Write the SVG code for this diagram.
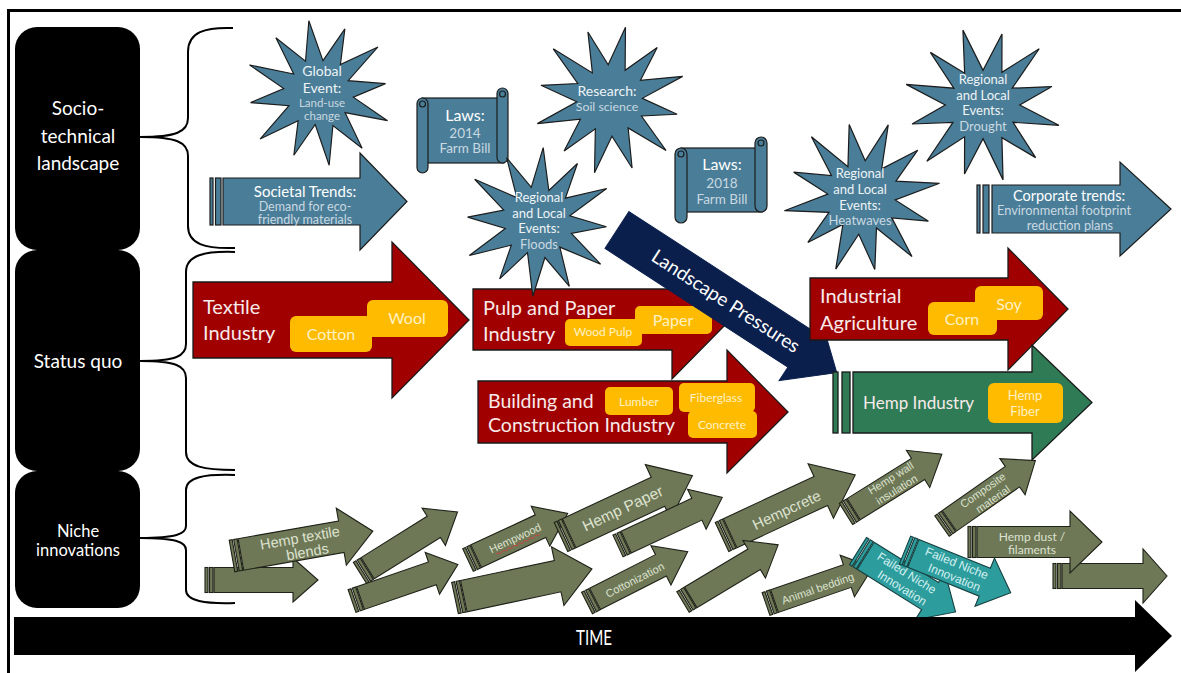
<svg xmlns="http://www.w3.org/2000/svg" xmlns:xlink="http://www.w3.org/1999/xlink" width="1181" height="673" viewBox="0 0 1181 673">
<style>
text{font-family:Lato,"Open Sans","Liberation Sans",sans-serif}
.lbl{fill:#fff;text-anchor:middle}
.blue{fill:#4a7e98;stroke:#1c1c1c;stroke-width:1.2}
.red{fill:#a10000;stroke:#1a1a1a;stroke-width:1.3}
.grn{fill:#2f7b56;stroke:#1a1a1a;stroke-width:1.3}
.yel{fill:#ffbb00}
.yt{fill:#fff1c4;text-anchor:middle}
.rt{fill:#f7eaea}
.na{fill:#6e7857;stroke:#1e2218;stroke-width:1.1}
.ta{fill:#2d9c9c;stroke:#163f3f;stroke-width:1.1}
.nt{fill:#dde2cf;text-anchor:middle;font-family:"Liberation Sans",Arial,sans-serif}
.tt{fill:#d4f1f1;text-anchor:middle;font-family:"Liberation Sans",Arial,sans-serif}
.st{fill:#eef3f6;text-anchor:middle}
.sl{fill:#c9d8e1;text-anchor:middle}
.brace{fill:none;stroke:#000;stroke-width:2}
</style>
<defs>
<polygon id="star" class="blue" points="0,-76 8.8,-32.8 36,-62.4 26.2,-26.2 67.5,-39 31.9,-8.5 70,0 34.8,9.3 66.7,38.5 24,24 36.5,63.2 9.6,35.7 0,76 -8.5,31.9 -35,60.6 -25.5,25.5 -67.5,39 -32.8,8.8 -72,0 -35.7,-9.6 -67.5,-39 -23.3,-23.3 -36.5,-63.2 -9.3,-34.8"/>
</defs>
<rect x="8.5" y="10.5" width="1200" height="700" fill="none" stroke="#000" stroke-width="3"/>

<g id="levels">
<g id="level-landscape"><rect x="15" y="27" width="125" height="223" rx="22" fill="#000"/>
<text class="lbl" font-size="19" x="78" y="115">Socio-</text><text class="lbl" font-size="19" x="78" y="143">technical</text><text class="lbl" font-size="19" x="78" y="170">landscape</text></g>
<g id="level-statusquo"><rect x="15" y="250" width="125" height="221" rx="22" fill="#000"/>
<text class="lbl" font-size="19" x="78" y="368">Status quo</text></g>
<g id="level-niche"><rect x="15" y="471" width="125" height="137" rx="22" fill="#000"/>
<text class="lbl" font-size="16.5" x="78" y="537">Niche</text><text class="lbl" font-size="16.5" x="78" y="556">innovations</text></g>
</g>

<g id="connectors">
<path class="brace" d="M233,28 C205,27 188,32 188,52 L188,118 C188,132 176,137 140,137 C176,137 188,142 188,156 L188,226 C188,244 205,249 235,248"/>
<path class="brace" d="M235,252 C205,251 186,255 186,272 L186,344 C186,356 176,361 140,361 C176,361 186,366 186,378 L186,452 C186,467 205,470 235,470"/>
<path class="brace" d="M235,475 C205,474 186,477 186,490 L186,526 C186,534 176,538 140,538 C176,538 186,542 186,550 L186,590 C186,601 205,604 235,603"/>
</g>

<g id="societal-trends">
<rect class="blue" x="210" y="178" width="3" height="47"/><rect class="blue" x="215.5" y="178" width="5.5" height="47"/>
<path class="blue" d="M223,178 H360 V153 L407,201.5 L360,250 V225 H223 Z"/>
<text class="lbl" font-size="15" x="305" y="197">Societal Trends:</text>
<text class="sl" font-size="12.5" x="305" y="211">Demand for eco-</text>
<text class="sl" font-size="12.5" x="305" y="224">friendly materials</text>
</g>
<g id="corporate-trends">
<rect class="blue" x="977" y="185" width="3" height="48"/><rect class="blue" x="983" y="185" width="6" height="48"/>
<path class="blue" d="M992,185 H1120 V162 L1171,209 L1120,256 V233 H992 Z"/>
<text class="lbl" font-size="14.5" x="1069" y="201">Corporate trends:</text>
<text class="sl" font-size="12.8" x="1064" y="215">Environmental footprint</text>
<text class="sl" font-size="12.8" x="1070" y="230">reduction plans</text>
</g>
<g id="laws-2014">
<rect class="blue" x="422" y="98" width="82" height="65"/>
<rect class="blue" x="417" y="98" width="11" height="75" rx="5.5"/>
<rect class="blue" x="497" y="88" width="11" height="75" rx="5.5"/>
<circle class="blue" cx="422.5" cy="104" r="3"/><circle class="blue" cx="502.5" cy="94" r="3"/>
<text class="lbl" font-size="16" x="465" y="121">Laws:</text>
<text class="sl" font-size="13.5" x="465" y="138">2014</text>
<text class="sl" font-size="13.5" x="465" y="153">Farm Bill</text>
</g>
<g id="laws-2018">
<rect class="blue" x="681" y="148" width="81" height="64"/>
<rect class="blue" x="675" y="148" width="12" height="75" rx="6"/>
<rect class="blue" x="755" y="137" width="12" height="75" rx="6"/>
<circle class="blue" cx="681" cy="154" r="3"/><circle class="blue" cx="761" cy="143" r="3"/>
<text class="lbl" font-size="16" x="722" y="170">Laws:</text>
<text class="sl" font-size="13.5" x="722" y="188">2018</text>
<text class="sl" font-size="13.5" x="722" y="204">Farm Bill</text>
</g>
<g id="global-event">
<use xlink:href="#star" href="#star" transform="translate(319,93) rotate(-8) scale(0.96)"/>
<text class="st" font-size="14" x="322" y="76">Global</text>
<text class="st" font-size="14" x="322" y="93">Event:</text>
<text class="sl" font-size="11.5" x="322" y="107">Land-use</text>
<text class="sl" font-size="11.5" x="322" y="120">change</text>
</g>
<g id="research">
<use xlink:href="#star" href="#star" transform="translate(610,100) rotate(12) scale(0.98)"/>
<text class="st" font-size="14" x="607" y="96">Research:</text>
<text class="sl" font-size="12.3" x="607" y="111">Soil science</text>
</g>
<g id="drought">
<use xlink:href="#star" href="#star" transform="translate(983,105) rotate(-15) scale(1.02)"/>
<text class="st" font-size="13" x="983" y="84">Regional</text>
<text class="st" font-size="13" x="983" y="100">and Local</text>
<text class="st" font-size="13" x="983" y="115">Events:</text>
<text class="sl" font-size="13" x="983" y="131">Drought</text>
</g>
<g id="heatwaves">
<use xlink:href="#star" href="#star" transform="translate(862,197) rotate(20) scale(1.01)"/>
<text class="st" font-size="13" x="860" y="178">Regional</text>
<text class="st" font-size="13" x="860" y="194">and Local</text>
<text class="st" font-size="13" x="860" y="210">Events:</text>
<text class="sl" font-size="13" x="860" y="225">Heatwaves</text>
</g>

<g id="textile-industry">
<path class="red" d="M193,282 H392 V242 L469,320 L392,398 V358 H193 Z"/>
<rect class="yel" x="367" y="300" width="81" height="37" rx="6"/>
<rect class="yel" x="290" y="316" width="82" height="36" rx="6"/>
<text class="rt" font-size="20" x="203" y="314">Textile</text><text class="rt" font-size="20" x="203" y="340">Industry</text>
<text class="yt" font-size="16" x="331" y="340">Cotton</text>
<text class="yt" font-size="16" x="407" y="324">Wool</text>
</g>
<g id="building-industry">
<path class="red" d="M478,381 H727 V350 L788,412 L727,473 V443 H478 Z"/>
<rect class="yel" x="605" y="387" width="68" height="28" rx="5"/>
<rect class="yel" x="679" y="383" width="76" height="29" rx="5"/>
<rect class="yel" x="688" y="411" width="69" height="27" rx="5"/>
<text class="rt" font-size="19.5" x="488" y="408">Building and</text>
<text class="rt" font-size="19.5" x="488" y="432">Construction Industry</text>
<text class="yt" font-size="12" x="639" y="406">Lumber</text>
<text class="yt" font-size="12" x="716" y="402">Fiberglass</text>
<text class="yt" font-size="12" x="722" y="429">Concrete</text>
</g>
<g id="pulp-paper-industry">
<path class="red" d="M473,289 H672 V261 L730,320 L672,379 V350 H473 Z"/>
<rect class="yel" x="635" y="306" width="77" height="28" rx="5"/>
<rect class="yel" x="565" y="319" width="77" height="27" rx="5"/>
<text class="rt" font-size="20" x="483" y="315">Pulp and Paper</text><text class="rt" font-size="20" x="483" y="341">Industry</text>
<text class="yt" font-size="12" x="603" y="336">Wood Pulp</text>
<text class="yt" font-size="16" x="673" y="326">Paper</text>
</g>
<g id="landscape-pressures" transform="translate(617,230) rotate(33)">
<path fill="#0b1f4d" stroke="#0b1f4d" stroke-width="1" d="M0,-22 H218 V-38 L262,0 L218,38 V22 H0 Z"/>
<text class="lbl" font-size="19" x="130" y="7">Landscape Pressures</text>
</g>
<g id="floods">
<use xlink:href="#star" href="#star" transform="translate(538,222) rotate(4) scale(0.98)"/>
<text class="st" font-size="13" x="539" y="202">Regional</text>
<text class="st" font-size="13" x="539" y="218">and Local</text>
<text class="st" font-size="13" x="539" y="233">Events:</text>
<text class="sl" font-size="13" x="539" y="249">Floods</text>
</g>
<g id="industrial-agriculture">
<path class="red" d="M810,278 H1008 V248 L1068,309 L1008,370 V340 H810 Z"/>
<rect class="yel" x="975" y="286" width="68" height="34" rx="6"/>
<rect class="yel" x="928" y="302" width="69" height="33" rx="6"/>
<text class="rt" font-size="20" x="820" y="303">Industrial</text><text class="rt" font-size="20" x="820" y="330">Agriculture</text>
<text class="yt" font-size="16" x="962" y="325">Corn</text>
<text class="yt" font-size="16" x="1009" y="310">Soy</text>
</g>
<g id="hemp-industry">
<rect class="grn" x="833" y="372" width="5" height="61"/><rect class="grn" x="842" y="372" width="8" height="61"/>
<path class="grn" d="M853,372 H1032 V345 L1092,402.5 L1032,460 V433 H853 Z"/>
<rect class="yel" x="988" y="383" width="75" height="40" rx="6"/>
<text class="rt" font-size="17" x="863" y="409">Hemp Industry</text>
<text class="yt" font-size="13" x="1025" y="400">Hemp</text>
<text class="yt" font-size="13" x="1025" y="416">Fiber</text>
</g>

<g id="niche-arrows">
<g id="niche-1" transform="translate(205,580)"><rect class="na" x="0" y="-12.5" width="3" height="25"/><rect class="na" x="4.5" y="-12.5" width="3.5" height="25"/><path class="na" d="M9,-12.5 H88 V-22 L113,0 L88,22 V12.5 H9 Z"/></g>
<g id="hemp-textile-blends" transform="translate(232,556) rotate(-10)"><rect class="na" x="0" y="-16" width="3" height="32"/><rect class="na" x="4.5" y="-16" width="3.5" height="32"/><path class="na" d="M9,-16 H111 V-29 L143,0 L111,29 V16 H9 Z"/>
<text class="nt" font-size="14.5" x="70" y="-1">Hemp textile</text><text class="nt" font-size="14.5" x="75" y="14">blends</text></g>
<g id="niche-3" transform="translate(360,573) rotate(-32)"><rect class="na" x="0" y="-12.5" width="3" height="25"/><rect class="na" x="4.5" y="-12.5" width="3.5" height="25"/><path class="na" d="M9,-12.5 H87 V-22 L115,0 L87,22 V12.5 H9 Z"/></g>
<g id="niche-4" transform="translate(352,601) rotate(-19)"><rect class="na" x="0" y="-12" width="3" height="24"/><rect class="na" x="4.5" y="-12" width="3.5" height="24"/><path class="na" d="M9,-12 H85 V-22 L112,0 L85,22 V12 H9 Z"/></g>
<g id="hempwood" transform="translate(468,560) rotate(-25)"><rect class="na" x="0" y="-12.5" width="3" height="25"/><rect class="na" x="4.5" y="-12.5" width="3.5" height="25"/><path class="na" d="M9,-12.5 H80 V-22 L110,0 L80,22 V12.5 H9 Z"/>
<text class="nt" font-size="11" x="52" y="4">Hempwood</text>
<path fill="none" stroke="#d04040" stroke-width="0.8" d="M28,7 q1.5,-1.8 3,0 t3,0 t3,0 t3,0 t3,0 t3,0 t3,0 t3,0 t3,0 t3,0 t3,0 t3,0 t3,0 t3,0 t3,0 t3,0"/></g>
<g id="niche-6" transform="translate(455,598) rotate(-12)"><rect class="na" x="0" y="-16" width="3" height="32"/><rect class="na" x="4.5" y="-16" width="3.5" height="32"/><path class="na" d="M9,-16 H105 V-30 L140,0 L105,30 V16 H9 Z"/></g>
<g id="hemp-paper" transform="translate(561,537) rotate(-25)"><rect class="na" x="0" y="-16" width="3" height="32"/><rect class="na" x="4.5" y="-16" width="3.5" height="32"/><path class="na" d="M9,-16 H107 V-30 L145,0 L107,30 V16 H9 Z"/>
<text class="nt" font-size="15.5" x="68" y="5.5">Hemp Paper</text></g>
<g id="niche-8" transform="translate(618,546) rotate(-25)"><rect class="na" x="0" y="-12" width="3" height="24"/><rect class="na" x="4.5" y="-12" width="3.5" height="24"/><path class="na" d="M9,-12 H87 V-22 L115,0 L87,22 V12 H9 Z"/></g>
<g id="cottonization" transform="translate(587,603) rotate(-27)"><rect class="na" x="0" y="-12" width="3" height="24"/><rect class="na" x="4.5" y="-12" width="3.5" height="24"/><path class="na" d="M9,-12 H83 V-22 L113,0 L83,22 V12 H9 Z"/>
<text class="nt" font-size="11" x="53" y="5">Cottonization</text></g>
<g id="hempcrete" transform="translate(722,537) rotate(-25)"><rect class="na" x="0" y="-16" width="3" height="32"/><rect class="na" x="4.5" y="-16" width="3.5" height="32"/><path class="na" d="M9,-16 H109 V-30 L147,0 L109,30 V16 H9 Z"/>
<text class="nt" font-size="15" x="70" y="8">Hempcrete</text></g>
<g id="niche-11" transform="translate(683,602) rotate(-31)"><rect class="na" x="0" y="-12" width="3" height="24"/><rect class="na" x="4.5" y="-12" width="3.5" height="24"/><path class="na" d="M9,-12 H83 V-22 L111,0 L83,22 V12 H9 Z"/></g>
<g id="hemp-wall-insulation" transform="translate(846,514) rotate(-32)"><rect class="na" x="0" y="-12.5" width="3" height="25"/><rect class="na" x="4.5" y="-12.5" width="3.5" height="25"/><path class="na" d="M9,-12.5 H85 V-22 L113,0 L85,22 V12.5 H9 Z"/>
<text class="nt" font-size="11" x="57" y="-3">Hemp wall</text><text class="nt" font-size="11" x="56" y="10">insulation</text></g>
<g id="animal-bedding" transform="translate(766,604) rotate(-19)"><rect class="na" x="0" y="-12" width="3" height="24"/><rect class="na" x="4.5" y="-12" width="3.5" height="24"/><path class="na" d="M9,-12 H86 V-22 L113,0 L86,22 V12 H9 Z"/>
<text class="nt" font-size="11" x="54" y="6">Animal bedding</text></g>
<g id="failed-niche-1" transform="translate(858,551) rotate(32)"><rect class="ta" x="0" y="-16" width="3" height="32"/><rect class="ta" x="4.5" y="-16" width="3.5" height="32"/><path class="ta" d="M9,-16 H85 V-28 L115,0 L85,28 V16 H9 Z"/>
<text class="tt" font-size="12" x="53" y="-3">Failed Niche</text><text class="tt" font-size="12" x="57" y="12">Innovation</text></g>
<g id="failed-niche-2" transform="translate(905,550) rotate(22)"><rect class="ta" x="0" y="-15" width="3" height="30"/><rect class="ta" x="4.5" y="-15" width="3.5" height="30"/><path class="ta" d="M9,-15 H86 V-26 L114,0 L86,26 V15 H9 Z"/>
<text class="tt" font-size="12" x="53" y="-3">Failed Niche</text><text class="tt" font-size="12" x="56" y="11">Innovation</text></g>
<g id="composite-material" transform="translate(942,526) rotate(-35)"><rect class="na" x="0" y="-12.5" width="3" height="25"/><rect class="na" x="4.5" y="-12.5" width="3.5" height="25"/><path class="na" d="M9,-12.5 H86 V-22 L114,0 L86,22 V12.5 H9 Z"/>
<text class="nt" font-size="11" x="54" y="-2">Composite</text><text class="nt" font-size="11" x="57" y="11">material</text></g>
<g id="niche-18" transform="translate(1053,576)"><rect class="na" x="0" y="-12.5" width="3" height="25"/><rect class="na" x="4.5" y="-12.5" width="3.5" height="25"/><path class="na" d="M9,-12.5 H90 V-27 L114,0 L90,27 V12.5 H9 Z"/></g>
<g id="hemp-dust-filaments" transform="translate(968,542)"><rect class="na" x="0" y="-15.5" width="3" height="31"/><rect class="na" x="4.5" y="-15.5" width="3.5" height="31"/><path class="na" d="M9,-15.5 H102 V-31 L134,0 L102,31 V15.5 H9 Z"/>
<text class="nt" font-size="12" x="64" y="-1" style="font-family:Lato,sans-serif">Hemp dust /</text><text class="nt" font-size="12" x="64" y="12" style="font-family:Lato,sans-serif">filaments</text></g>
</g>

<g id="time-axis">
<path fill="#000" d="M14,617 H1135 V600 L1172,636 L1135,672 V655 H14 Z"/>
<text class="lbl" font-size="22" x="594" y="645" textLength="36" lengthAdjust="spacingAndGlyphs">TIME</text>
</g>
</svg>
